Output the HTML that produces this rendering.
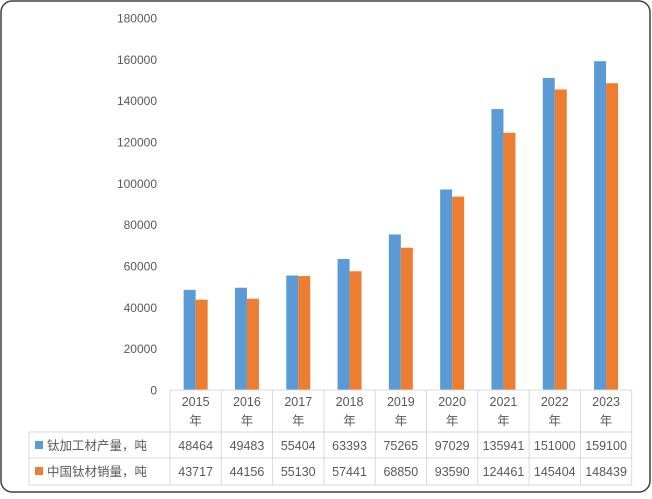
<!DOCTYPE html>
<html><head><meta charset="utf-8"><style>
html,body{margin:0;padding:0;background:#fff;}
body{width:652px;height:494px;overflow:hidden;font-family:"Liberation Sans","Noto Sans CJK SC",sans-serif;}
</style></head><body>
<svg id="chart" width="652" height="494" xmlns="http://www.w3.org/2000/svg" font-family="Liberation Sans, Noto Sans CJK SC, sans-serif">
<rect x="1" y="1" width="649" height="491" rx="11" fill="#fff" stroke="#404040" stroke-width="1.5"/>
<g id="plot"></g>
</svg>
<script>
const years=["2015","2016","2017","2018","2019","2020","2021","2022","2023"];
const production=[48464,49483,55404,63393,75265,97029,135941,151000,159100];
const sales=[43717,44156,55130,57441,68850,93590,124461,145404,148439];
const yTicks=[0,20000,40000,60000,80000,100000,120000,140000,160000,180000];
const seriesNames=["钛加工材产量，吨","中国钛材销量，吨"];
const colors=["#5B9BD5","#ED7D31"];
const NS="http://www.w3.org/2000/svg";
const g=document.getElementById('plot');
const x0=170,colW=51.3,y0=390,yTop=18,yMax=180000;
const y=v=>y0-(v/yMax)*(y0-yTop);
function mk(t,a,txt){const e=document.createElementNS(NS,t);for(const k in a)e.setAttribute(k,a[k]);if(txt!==undefined)e.textContent=txt;g.appendChild(e);return e;}
yTicks.forEach(v=>{const e=mk('text',{x:157,y:y(v)+4.5,'text-anchor':'end','font-size':12,fill:'#595959'},v);

});
[production,sales].forEach((s,si)=>{s.forEach((v,i)=>{const cx=x0+colW*i+colW/2;
const r=mk('rect',{x:cx-12+si*12,y:y(v),width:12,height:y0-y(v),fill:colors[si]});

});});
// table
const rows=[390,432,458,485],right=x0+colW*9,left=29;
const lc='#d9d9d9';
mk('line',{x1:x0,y1:rows[0],x2:x0,y2:rows[3],stroke:lc});
mk('line',{x1:left,y1:rows[1],x2:left,y2:rows[3],stroke:lc});
for(let i=1;i<=9;i++)mk('line',{x1:x0+colW*i,y1:rows[0],x2:x0+colW*i,y2:rows[3],stroke:lc});
mk('line',{x1:x0,y1:rows[0],x2:right,y2:rows[0],stroke:lc});
mk('line',{x1:left,y1:rows[1],x2:right,y2:rows[1],stroke:lc});
mk('line',{x1:left,y1:rows[2],x2:right,y2:rows[2],stroke:lc});
mk('line',{x1:left,y1:rows[3],x2:right,y2:rows[3],stroke:lc});
years.forEach((yr,i)=>{const cx=x0+colW*i+colW/2;
const a=mk('text',{x:cx,y:406,'text-anchor':'middle','font-size':12.5,fill:'#595959'},yr);


const b=mk('text',{x:cx,y:425,'text-anchor':'middle','font-size':12.5,fill:'#595959'},'年');


[production,sales].forEach((s,si)=>{const t=mk('text',{x:cx,y:rows[1+si]+18,'text-anchor':'middle','font-size':12.5,fill:'#595959'},s[i]);

});});
seriesNames.forEach((n,si)=>{const ry=rows[1+si];
const k=mk('rect',{x:35,y:ry+9,width:8,height:8,fill:colors[si]});


const t=mk('text',{x:47,y:ry+18,'font-size':12.5,fill:'#595959'},n);

});
</script>
</body></html>
